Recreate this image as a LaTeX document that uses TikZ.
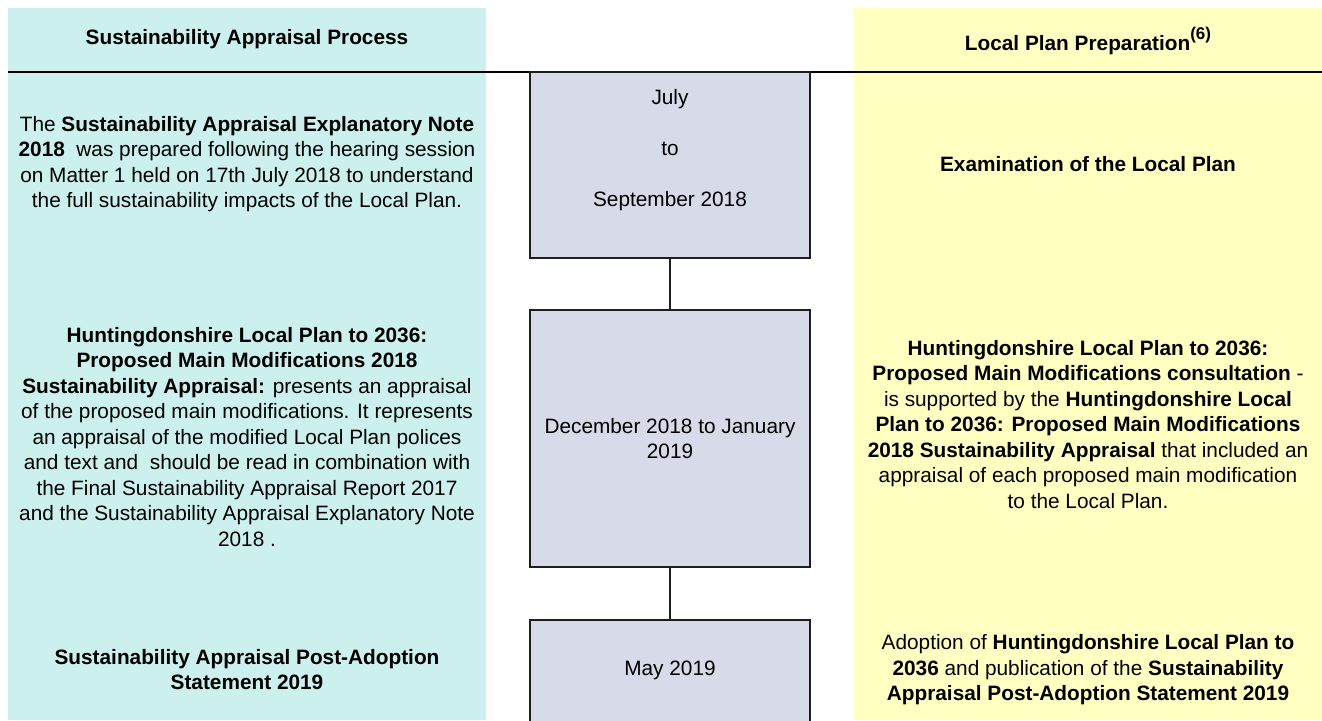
\documentclass[tikz,border=0pt]{standalone}
\usepackage{fontspec}
\setmainfont{Liberation Sans}

\definecolor{sapcyan}{RGB}{203,240,238}
\definecolor{lpyellow}{RGB}{255,255,194}
\definecolor{dategrey}{RGB}{215,218,233}
\definecolor{boxline}{RGB}{30,30,30}

\newcommand{\bodysize}{\fontsize{20.8}{25.5}\selectfont}

\begin{document}
\begin{tikzpicture}[x=1pt,y=-1pt,
	every node/.style={align=center,inner sep=0pt,font=\bodysize},
	heading/.style={anchor=base,font=\bfseries\bodysize},
	datebox/.style={draw=boxline,line width=1.5pt,fill=dategrey,minimum width=280pt},
	link/.style={draw=boxline,line width=1.5pt}]
	
	%\draw[help lines,step=50] (0,0) grid (1322,720);

	\def\pagew{1322}
	\def\pageh{720}
	\def\rule{72}

	\clip (0,0) rectangle (\pagew,\pageh);
	\fill[white] (0,0) rectangle (\pagew,\pageh);

	% the two columns
	\fill[sapcyan] (8,8) rectangle (486,\pageh);
	\fill[lpyellow] (854,8) rectangle (\pagew,\pageh);
	\draw[line width=2pt] (8,\rule) -- (\pagew,\rule);

	\node[heading] (saHead) at (247,44) {Sustainability Appraisal Process};
	\node[heading] (lpHead) at (1088,50) {Local Plan Preparation\raisebox{11pt}{\fontsize{17}{17}\selectfont(6)}};

	% timeline in the middle
	\node[datebox,minimum height=186pt] (jul) at (670,165) {};
	\node (julText) at ([yshift=15pt]jul.center) {July\\[25.5pt]to\\[25.5pt]September 2018};
	\node[datebox,minimum height=257pt] (dec) at (670,438.5) {December 2018 to January\\2019};
	\node[datebox,minimum height=102pt,anchor=north] (may) at (670,619) {May 2019};

	\foreach \a/\b in {jul/dec,dec/may} {
		\draw[link] (\a) -- (\b);
	}

	% left column
	\node (saNote) at (247,164) {The \textbf{Sustainability Appraisal Explanatory Note}\\
		\textbf{2018}\ \ was prepared following the hearing session\\
		on Matter 1 held on 17th July 2018 to understand\\
		the full sustainability impacts of the Local Plan.};
	\node (saMods) at (247,437) {\textbf{Huntingdonshire Local Plan to 2036:}\\
		\textbf{Proposed Main Modifications 2018}\\
		\textbf{Sustainability Appraisal:} presents an appraisal\\
		of the proposed main modifications. It represents\\
		an appraisal of the modified Local Plan polices\\
		and text and\ \ should be read in combination with\\
		the Final Sustainability Appraisal Report 2017\\
		and the Sustainability Appraisal Explanatory Note\\
		2018 .};
	\node (saPost) at (247,669.5) {\textbf{Sustainability Appraisal Post-Adoption}\\
		\textbf{Statement 2019}};

	% right column
	\node (lpExam) at (1088,164) {\textbf{Examination of the Local Plan}};
	\node (lpMods) at (1088,424.5) {\textbf{Huntingdonshire Local Plan to 2036:}\\
		\textbf{Proposed Main Modifications consultation} -\\
		is supported by the \textbf{Huntingdonshire Local}\\
		\textbf{Plan to 2036: Proposed Main Modifications}\\
		\textbf{2018 Sustainability Appraisal} that included an\\
		appraisal of each proposed main modification\\
		to the Local Plan.};
	\node (lpAdopt) at (1088,670) {Adoption of \textbf{Huntingdonshire Local Plan to}\\
		\textbf{2036} and publication of the \textbf{Sustainability}\\
		\textbf{Appraisal Post-Adoption Statement 2019}};

\end{tikzpicture}
\end{document}
